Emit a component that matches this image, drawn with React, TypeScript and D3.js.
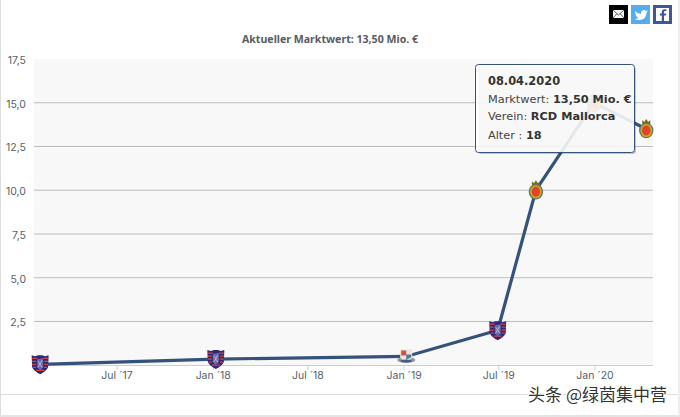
import * as d3 from 'd3';

const dates = ['2017-02-04', '2018-01-06', '2019-01-05', '2019-06-29', '2019-09-10', '2019-12-30', '2020-04-08'];
const values = [0.05, 0.35, 0.5, 2, 10, 15, 13.5];
const clubs = ['fcb', 'fcb', 'yok', 'fcb', 'mal', 'mal', 'mal'];
const yTicks = [2.5, 5, 7.5, 10, 12.5, 15, 17.5];
const xTickDates = ['2017-07-01', '2018-01-01', '2018-07-01', '2019-01-01', '2019-07-01', '2020-01-01'];
const xTickLabels = ['Jul ´17', 'Jan ´18', 'Jul ´18', 'Jan ´19', 'Jul ´19', 'Jan ´20'];

const title = 'Aktueller Marktwert: 13,50 Mio. €';
const watermark = '头条 @绿茵集中营';

const parse = d3.utcParse('%Y-%m-%d');
const x = d3.scaleUtc()
  .domain([parse('2017-07-01') as Date, parse('2020-01-01') as Date])
  .range([117, 595]);
const y = d3.scaleLinear().domain([0, 17.5]).range([365.2, 59]);

const points = dates.map((d, i) => ({ x: x(parse(d) as Date), y: y(values[i]), club: clubs[i] }));
const linePath = d3.line<{ x: number; y: number }>().x(d => d.x).y(d => d.y)(points) as string;

const tickFont = 'Inter, "Noto Sans", sans-serif';
const labelFont = '"DejaVu Sans", sans-serif';

function Crest({ club, cx, cy }: { club: string; cx: number; cy: number }) {
  if (club === 'fcb') {
    return (
      <g transform={`translate(${cx},${cy})`}>
        <path d="M-8.5,-9 L-5,-8 L-2,-9 L2,-9 L5,-8 L8.5,-9 L8,3 Q6,7 0,10 Q-6,7 -8,3 Z" fill="#2f2878" />
        <path d="M-8,-6 L-3,-6 M3,-6 L8,-6 M-8,-3 L-4,-3 M4,-3 L8,-3 M-8,0 L-4,0 M4,0 L8,0 M-7,3 L-4,3 M4,3 L7,3 M-4,6 L4,6" stroke="#d6433c" strokeWidth={1.3} />
        <path d="M-3,-5 L3,-6 L3,3 L0,6 L-3,3 Z" fill="#6d6aa8" />
        <path d="M-2,3 L2,-4 M-2,-3 L2,3" stroke="#b9b8d8" strokeWidth={1} />
      </g>
    );
  }
  if (club === 'yok') {
    return (
      <g transform={`translate(${cx},${cy})`}>
        <ellipse cx={0} cy={3.5} rx={9} ry={3} fill="#8f9a9c" />
        <path d="M-6,-7 L6,-7 L6,1 Q4,4 0,4 Q-4,4 -6,1 Z" fill="#ece6d2" />
        <path d="M-5,-6 L0,-6 L0,-1 L-5,-1 Z" fill="#d64a4a" />
        <path d="M0,-2 L5,-2 L5,1 L0,3 Z" fill="#4f78ac" />
        <ellipse cx={0} cy={4.5} rx={6} ry={1.5} fill="#3f5f84" />
      </g>
    );
  }
  return (
    <g transform={`translate(${cx},${cy})`}>
      <path d="M-4,-9 L-2,-7 L0,-10 L2,-7 L4,-9 L4,-5 L-4,-5 Z" fill="#7a6a18" />
      <ellipse cx={0} cy={1.5} rx={7.2} ry={7.8} fill="#56806a" />
      <ellipse cx={0} cy={1.5} rx={5.8} ry={6.6} fill="#d9a21f" />
      <ellipse cx={0} cy={1.5} rx={4.2} ry={5} fill="#e0452c" />
    </g>
  );
}

export default function App() {
  return (
    <svg
      width={680}
      height={417}
      viewBox="0 0 680 417"
      style={{ position: 'absolute', left: 0, top: 0, background: '#fff' }}
    >
      {/* page frame */}
      <rect x={0} y={0} width={1} height={417} fill="#dcdcdc" />
      <rect x={678} y={0} width={2} height={417} fill="#eeeeee" />
      <rect x={0} y={394} width={678} height={1} fill="#dddddd" />
      <rect x={0} y={415} width={680} height={2} fill="#e4e4e4" />

      <rect x={34} y={59} width={619} height={306} fill="#f8f8f8" />

      {yTicks.map(t => (
        <g key={t}>
          {t < 17.5 && <line x1={34} x2={653} y1={y(t)} y2={y(t)} stroke="#bdbdbd" strokeWidth={1} />}
          <text x={26} y={y(t) + 5} textAnchor="end" fontSize={10.5} fontFamily={tickFont} fill="#555f6b">
            {t.toFixed(1).replace('.', ',')}
          </text>
        </g>
      ))}

      <line x1={34} x2={653} y1={365.5} y2={365.5} stroke="#c0d0e0" strokeWidth={1} />
      {xTickDates.map((d, i) => (
        <g key={d}>
          <line x1={x(parse(d) as Date)} x2={x(parse(d) as Date)} y1={365} y2={370} stroke="#c0d0e0" />
          <text x={x(parse(d) as Date)} y={379} textAnchor="middle" fontSize={10.5} fontFamily={tickFont} fill="#555f6b">
            {xTickLabels[i]}
          </text>
        </g>
      ))}

      <path d={linePath} fill="none" stroke="#34527a" strokeWidth={3.2} />
      {points.map((p, i) => <Crest key={i} club={p.club} cx={p.x} cy={p.y} />)}

      <text x={330} y={43} textAnchor="middle" fontSize={10.6} fontWeight={700} fontFamily='"Noto Sans", sans-serif' fill="#5a5a62">
        {title}
      </text>

      {/* share buttons */}
      <rect x={609} y={5} width={19} height={19} fill="#000" />
      <rect x={613} y={10} width={11} height={8} fill="#fff" />
      <path d="M613,10 L618.5,15 L624,10 M613,18 L617,13.5 M624,18 L620,13.5" fill="none" stroke="#333" strokeWidth={0.8} />
      <rect x={631} y={5} width={19} height={19} fill="#55acee" />
      <path d="M635,11 Q638,14 641,14 Q641,10 644,10 Q645.5,10 646,11 L648,10.5 L646.5,12.5 Q646.5,19 640,20 Q637,20.5 634.5,19 Q637,19 638.5,18 Q635.5,17 635,11 Z" fill="#fff" />
      <rect x={653} y={5} width={19} height={19} fill="#3b5998" />
      <rect x={656} y={8} width={13} height={13} fill="#fff" />
      <path d="M664,21 L664,15.5 L666,15.5 L666.3,13.5 L664,13.5 L664,12 Q664,11 665,11 L666.4,11 L666.4,9.3 L664.6,9.3 Q661.8,9.3 661.8,12 L661.8,13.5 L660,13.5 L660,15.5 L661.8,15.5 L661.8,21 Z" fill="#3b5998" />

      {/* tooltip */}
      <g>
        <rect x={476.5} y={65.5} width={158} height={87} rx={3} fill="#000" opacity={0.2} transform="translate(1.5,1.5)" />
        <rect x={475.5} y={64.5} width={159} height={88} rx={3} fill="#fff" fillOpacity={0.88} stroke="#34527a" strokeWidth={1} />
        <text x={488} y={85} fontSize={11.4} fontWeight={700} fontFamily={labelFont} fill="#333">08.04.2020</text>
        <text x={488} y={103} fontSize={11.3} fontFamily={labelFont} fill="#444">
          Marktwert: <tspan fontWeight={700} fill="#333">13,50 Mio. €</tspan>
        </text>
        <text x={488} y={120} fontSize={11.3} fontFamily={labelFont} fill="#444">
          Verein: <tspan fontWeight={700} fill="#333">RCD Mallorca</tspan>
        </text>
        <text x={488} y={139} fontSize={11.3} fontFamily={labelFont} fill="#444">
          Alter : <tspan fontWeight={700} fill="#333">18</tspan>
        </text>
      </g>

      <text x={667} y={401} textAnchor="end" fontSize={17} fontFamily='"Noto Sans CJK SC", sans-serif' fill="#333" stroke="#fff" strokeWidth={2.5} paintOrder="stroke">
        {watermark}
      </text>
    </svg>
  );
}
